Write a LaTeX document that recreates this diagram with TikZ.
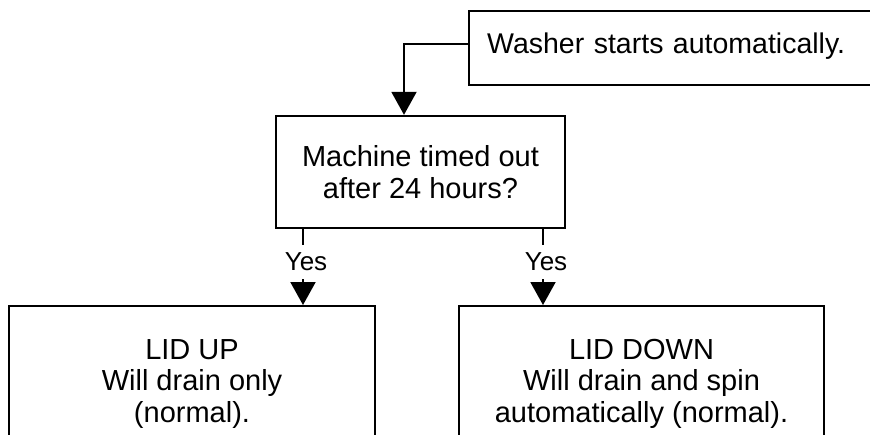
\documentclass[tikz,border=0pt]{standalone}
\usepackage{fontspec}
\setmainfont{Liberation Sans}
\usetikzlibrary{arrows.meta,calc}
\tikzset{
  box/.style={draw, line width=2.4pt, inner sep=0pt},
  txt/.style={font=\fontsize{29pt}{32pt}\selectfont, align=center},
  arr/.style={line width=2pt, -{Triangle[width=25pt,length=23pt]}},
  yeslbl/.style={fill=white, inner xsep=2pt, inner ysep=0pt, minimum height=34pt,
    font=\fontsize{26pt}{30pt}\selectfont, xshift=3pt}
}
\begin{document}
\begin{tikzpicture}[x=1pt,y=-1pt]
\clip (0,0) rectangle (870,434);
\fill[white] (0,0) rectangle (870,434);
\node[box, anchor=west, minimum height=74pt, text width=420pt, align=left,
  inner xsep=18pt, text height=17pt, text depth=7pt,
  font=\fontsize{28.5pt}{32pt}\selectfont] (top) at (468,48) {Washer starts automatically.};
\node[box, txt, minimum width=289pt, minimum height=112pt] (mid) at (420.5,172)
  {Machine timed out\\after 24 hours?};
\node[box, txt, font=\fontsize{29pt}{31.5pt}\selectfont, anchor=north, minimum width=366pt, inner ysep=33pt]
  (lidup) at (192,305) {LID UP\\Will drain only\\(normal).};
\node[box, txt, font=\fontsize{29pt}{31.5pt}\selectfont, anchor=north, minimum width=365pt, inner ysep=33pt]
  (liddown) at (641.5,305) {LID DOWN\\Will drain and spin\\automatically (normal).};
\coordinate (entry) at ([xshift=-16.5pt]mid.north);
\draw[arr] ([yshift=4pt]top.west) -| (entry);
\coordinate (ly) at ([xshift=-117.5pt]mid.south);
\coordinate (ry) at ([xshift=122.5pt]mid.south);
\draw[arr] (ly) -- (ly |- lidup.north) node[yeslbl, pos=0.43] {Yes};
\draw[arr] (ry) -- (ry |- liddown.north) node[yeslbl, pos=0.43] {Yes};
\end{tikzpicture}
\end{document}
